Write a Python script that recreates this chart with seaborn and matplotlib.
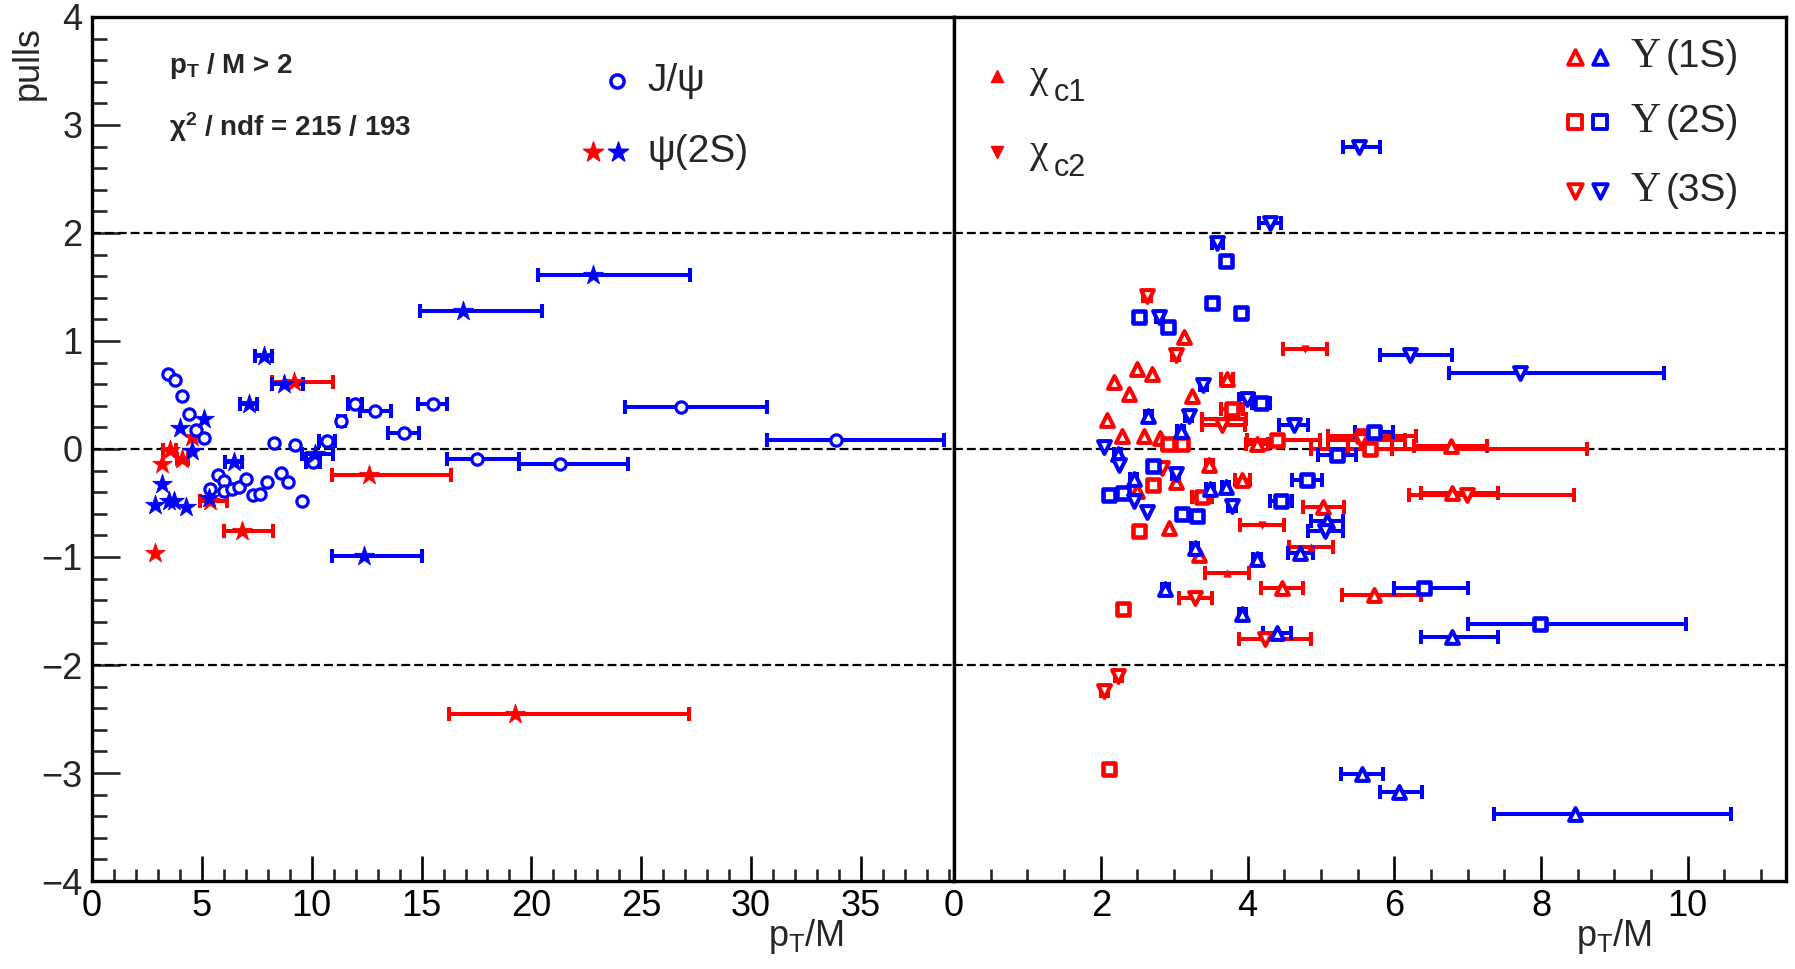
import numpy as np
import pandas as pd
import matplotlib
matplotlib.use("Agg")
import matplotlib.pyplot as plt
from matplotlib.ticker import MultipleLocator
import seaborn as sns

# ---------------- left panel: charmonium ----------------
jpsi_x = [3.46, 3.76, 4.08, 4.40, 4.75, 5.08, 5.36, 5.74, 5.99, 5.99, 6.37, 6.70, 7.00, 7.33, 7.64, 7.97,
          8.27, 8.62, 8.93, 9.25, 9.56, 10.06, 10.69, 11.35, 11.98, 12.89, 14.18, 15.50, 17.52, 21.30, 26.82, 33.85]
jpsi_y = [0.69, 0.64, 0.49, 0.32, 0.18, 0.10, -0.37, -0.24, -0.30, -0.39, -0.37, -0.35, -0.28, -0.43, -0.42, -0.31,
          0.06, -0.22, -0.31, 0.04, -0.48, -0.12, 0.07, 0.26, 0.42, 0.35, 0.15, 0.42, -0.09, -0.14, 0.39, 0.08]
jpsi_el = [0]*21 + [0.30, 0.38, 0.15, 0.33, 0.70, 0.70, 0.67, 1.37, 1.87, 2.55, 3.12]
jpsi_eh = [0]*21 + [0.30, 0.38, 0.15, 0.33, 0.70, 0.70, 0.67, 1.91, 3.08, 3.91, 4.95]

psi2s_blue_x = [2.88, 3.19, 3.49, 3.72, 3.99, 4.29, 4.55, 5.11, 5.30, 6.45, 7.13, 7.81, 8.72, 10.16, 12.36, 16.87, 22.81]
psi2s_blue_y = [-0.52, -0.32, -0.48, -0.48, 0.19, -0.54, -0.02, 0.28, -0.45, -0.12, 0.42, 0.86, 0.60, -0.05, -0.99, 1.28, 1.61]
psi2s_blue_el = [0]*9 + [0.38, 0.40, 0.38, 0.53, 0.60, 1.44, 1.92, 2.50]
psi2s_blue_eh = [0]*9 + [0.38, 0.40, 0.38, 0.88, 0.81, 2.66, 3.60, 4.43]

psi2s_red_x = [2.88, 3.19, 3.54, 4.10, 4.55, 5.39, 6.83, 9.18, 12.59, 19.27]
psi2s_red_y = [-0.96, -0.14, -0.01, -0.09, 0.11, -0.48, -0.76, 0.62, -0.24, -2.45]
psi2s_red_el = [0, 0, 0.30, 0.25, 0, 0.46, 0.84, 0.99, 1.67, 3.02]
psi2s_red_eh = [0, 0, 0.30, 0.25, 0, 0.73, 1.41, 1.77, 3.76, 7.92]

# ---------------- right panel: chi_c and bottomonium ----------------
chic1_x = [3.68, 3.72, 4.86, 6.75]
chic1_y = [0.28, -1.15, -0.91, 0.00]
chic1_el = [0.30, 0.30, 0.30, 1.88]
chic1_eh = [0.30, 0.30, 0.30, 1.88]

chic2_x = [4.78, 4.20]
chic2_y = [0.93, -0.70]
chic2_el = [0.30, 0.30]
chic2_eh = [0.30, 0.30]

ups1s_red_x = [3.14, 2.50, 2.70, 2.18, 2.39, 3.72, 3.24, 2.08, 2.29, 2.59, 2.81, 3.48, 3.93, 3.03, 2.50, 2.93,
               5.03, 3.34, 4.47, 5.73, 4.13, 6.79, 6.77]
ups1s_red_y = [1.04, 0.74, 0.69, 0.62, 0.51, 0.65, 0.49, 0.27, 0.12, 0.12, 0.10, -0.15, -0.29, -0.31, -0.39, -0.73,
               -0.54, -0.98, -1.29, -1.35, 0.05, -0.41, 0.03]
ups1s_red_el = [0, 0, 0, 0, 0, 0.08, 0, 0, 0, 0, 0, 0.05, 0.10, 0, 0, 0, 0.28, 0, 0.29, 0.44, 0.15, 0.43, 0.50]
ups1s_red_eh = [0, 0, 0, 0, 0, 0.08, 0, 0, 0, 0, 0, 0.05, 0.10, 0, 0, 0, 0.28, 0, 0.29, 0.63, 0.15, 0.62, 0.50]

ups1s_blue_x = [2.65, 3.09, 2.23, 2.45, 3.49, 3.70, 5.08, 4.72, 3.28, 4.13, 2.88, 3.93, 4.40, 6.79, 5.56, 6.06, 8.46]
ups1s_blue_y = [0.31, 0.17, -0.05, -0.28, -0.37, -0.35, -0.67, -0.96, -0.92, -1.02, -1.30, -1.53, -1.70, -1.74,
                -3.01, -3.18, -3.38]
ups1s_blue_el = [0.05, 0.05, 0.05, 0.05, 0.05, 0.05, 0.22, 0.17, 0.05, 0.05, 0.05, 0.05, 0.19, 0.43, 0.29, 0.26, 1.10]
ups1s_blue_eh = [0.05, 0.05, 0.05, 0.05, 0.05, 0.05, 0.22, 0.17, 0.05, 0.05, 0.05, 0.05, 0.19, 0.62, 0.29, 0.32, 2.13]

ups2s_red_x = [3.79, 2.91, 3.11, 4.40, 5.57, 5.67, 2.71, 3.38, 2.52, 2.30, 2.11]
ups2s_red_y = [0.37, 0.05, 0.05, 0.08, 0.12, 0.00, -0.33, -0.44, -0.76, -1.48, -2.96]
ups2s_red_el = [0.15, 0.05, 0.05, 0.41, 0.47, 0.30, 0, 0.13, 0.05, 0.05, 0.05]
ups2s_red_eh = [0.15, 0.05, 0.05, 0.59, 0.72, 0.30, 0, 0.13, 0.05, 0.05, 0.05]

ups2s_blue_x = [3.71, 3.51, 3.91, 2.52, 2.91, 4.18, 5.72, 5.22, 2.71, 2.11, 2.30, 3.11, 3.31, 4.81, 4.45, 6.40, 7.99]
ups2s_blue_y = [1.74, 1.35, 1.26, 1.22, 1.13, 0.43, 0.16, -0.06, -0.16, -0.43, -0.41, -0.60, -0.62, -0.29, -0.48,
                -1.29, -1.62]
ups2s_blue_el = [0.05, 0.05, 0.05, 0.05, 0.05, 0.12, 0.26, 0.26, 0.05, 0, 0.05, 0, 0.05, 0.20, 0.15, 0.41, 0.99]
ups2s_blue_eh = [0.05, 0.05, 0.05, 0.05, 0.05, 0.12, 0.26, 0.26, 0.05, 0, 0.05, 0, 0.05, 0.20, 0.15, 0.60, 1.99]

ups3s_red_x = [2.63, 3.02, 3.65, 2.84, 3.29, 4.24, 2.24, 2.05, 6.99, 5.55]
ups3s_red_y = [1.42, 0.87, 0.22, -0.18, -1.38, -1.76, -2.10, -2.24, -0.43, 0.08]
ups3s_red_el = [0.05, 0.05, 0.27, 0, 0.22, 0.36, 0.05, 0.05, 0.79, 0.45]
ups3s_red_eh = [0.05, 0.05, 0.32, 0, 0.22, 0.62, 0.05, 0.05, 1.46, 0.60]

ups3s_blue_x = [4.31, 3.59, 2.80, 3.40, 3.99, 3.20, 4.63, 2.04, 2.25, 3.02, 2.45, 2.63, 3.79, 5.06, 5.52, 6.21, 7.72]
ups3s_blue_y = [2.09, 1.91, 1.22, 0.59, 0.46, 0.31, 0.22, 0.02, -0.15, -0.23, -0.48, -0.58, -0.53, -0.76, 2.80,
                0.87, 0.70]
ups3s_blue_el = [0.15, 0.08, 0.05, 0.05, 0.10, 0.05, 0.20, 0, 0, 0.05, 0, 0, 0.05, 0.24, 0.22, 0.41, 0.98]
ups3s_blue_eh = [0.15, 0.08, 0.05, 0.05, 0.10, 0.05, 0.20, 0, 0, 0.05, 0, 0, 0.05, 0.24, 0.28, 0.58, 1.95]

left_ticks = [0, 5, 10, 15, 20, 25, 30, 35]
right_ticks = [0, 2, 4, 6, 8, 10]
y_ticks = [-4, -3, -2, -1, 0, 1, 2, 3, 4]
ref_lines = [-2, 0, 2]

RED = "#ff0000"
BLUE = "#0000ff"
SANS = ['Liberation Sans', 'DejaVu Sans']
SERIF = ['Liberation Serif', 'DejaVu Serif']

sns.set_theme(style="white")
plt.rcParams['font.family'] = SANS
plt.rcParams['mathtext.fontset'] = 'custom'
plt.rcParams['mathtext.rm'] = 'Liberation Sans'
plt.rcParams['mathtext.it'] = 'Liberation Sans:italic'
plt.rcParams['mathtext.bf'] = 'Liberation Sans:bold'
plt.rcParams['axes.unicode_minus'] = True

fig = plt.figure(figsize=(17.95, 9.69), dpi=100)
ax1 = fig.add_axes([0.0513, 0.0908, 0.4802, 0.8917])
ax2 = fig.add_axes([0.5315, 0.0908, 0.4635, 0.8917])


def draw(ax, x, y, el, eh, color, marker, filled, size, lw):
    df = pd.DataFrame({"x": x, "y": y, "el": el, "eh": eh})
    e = df[(df.el > 0) | (df.eh > 0)]
    if len(e):
        ax.errorbar(e.x, e.y, xerr=[e.el, e.eh], fmt="none", ecolor=color,
                    elinewidth=2.9, capsize=5, capthick=2.9, zorder=3)
    sns.scatterplot(data=df, x="x", y="y", ax=ax, marker=marker, s=size,
                    facecolor=color if filled else "white", edgecolor=color,
                    linewidth=lw, zorder=4, legend=False)


# left panel
draw(ax1, psi2s_red_x, psi2s_red_y, psi2s_red_el, psi2s_red_eh, RED, "*", True, 220, 0.6)
draw(ax1, jpsi_x, jpsi_y, jpsi_el, jpsi_eh, BLUE, "o", False, 66, 2.3)
draw(ax1, psi2s_blue_x, psi2s_blue_y, psi2s_blue_el, psi2s_blue_eh, BLUE, "*", True, 220, 0.6)

# right panel
draw(ax2, chic1_x, chic1_y, chic1_el, chic1_eh, RED, "^", True, 28, 0.5)
draw(ax2, chic2_x, chic2_y, chic2_el, chic2_eh, RED, "v", True, 28, 0.5)
draw(ax2, ups1s_red_x, ups1s_red_y, ups1s_red_el, ups1s_red_eh, RED, "^", False, 85, 2.9)
draw(ax2, ups2s_red_x, ups2s_red_y, ups2s_red_el, ups2s_red_eh, RED, "s", False, 72, 3.3)
draw(ax2, ups3s_red_x, ups3s_red_y, ups3s_red_el, ups3s_red_eh, RED, "v", False, 85, 2.9)
draw(ax2, ups1s_blue_x, ups1s_blue_y, ups1s_blue_el, ups1s_blue_eh, BLUE, "^", False, 85, 2.9)
draw(ax2, ups2s_blue_x, ups2s_blue_y, ups2s_blue_el, ups2s_blue_eh, BLUE, "s", False, 72, 3.3)
draw(ax2, ups3s_blue_x, ups3s_blue_y, ups3s_blue_el, ups3s_blue_eh, BLUE, "v", False, 85, 2.9)

for ax in (ax1, ax2):
    for yv in ref_lines:
        ax.axhline(yv, color="black", lw=1.6, ls=(0, (4, 1.8)), zorder=1)
    ax.set_ylim(-4, 4)
    ax.set_xlabel("")
    ax.set_ylabel("")
    for sp in ax.spines.values():
        sp.set_visible(True)
        sp.set_color("black")
        sp.set_linewidth(2.4)
    ax.set_facecolor("white")

ax1.set_xlim(0, 39.24)
ax2.set_xlim(0, 11.34)
ax1.set_xticks(left_ticks)
ax1.set_xticklabels([str(t) for t in left_ticks])
ax1.xaxis.set_minor_locator(MultipleLocator(1))
ax2.set_xticks(right_ticks)
ax2.set_xticklabels([str(t) for t in right_ticks])
ax2.xaxis.set_minor_locator(MultipleLocator(0.5))
ax1.set_yticks(y_ticks)
ax1.set_yticklabels([str(t).replace("-", "\u2212") for t in y_ticks])
ax1.yaxis.set_minor_locator(MultipleLocator(0.2))
ax2.set_yticks([])

for ax in (ax1, ax2):
    ax.tick_params(axis="x", which="major", direction="in", length=18, width=1.9,
                   bottom=True, top=False, labelsize=26, pad=6, colors="black")
    ax.tick_params(axis="x", which="minor", direction="in", length=9, width=1.9,
                   bottom=True, top=False)
ax1.tick_params(axis="y", which="major", direction="in", length=20, width=1.9,
                left=True, right=False, labelsize=26, pad=7)
ax1.tick_params(axis="y", which="minor", direction="in", length=11, width=1.9,
                left=True, right=False)
ax2.tick_params(axis="y", which="both", left=False, right=False, labelleft=False)

# axis titles
fig.text(0.016, 0.935, "pulls", rotation=90, ha="center", va="center", fontsize=26)
fig.text(0.449, 0.034, "p$_{\\mathregular{T}}$/M", ha="center", va="center", fontsize=26)
fig.text(0.899, 0.034, "p$_{\\mathregular{T}}$/M", ha="center", va="center", fontsize=26)

# annotations
ax1.text(3.52, 3.55, "p$_{\\mathbf{T}}$ / M > 2", fontsize=20, fontweight="bold",
         ha="left", va="center")
ax1.text(3.52, 2.98, "\u03c7$^{\\mathbf{2}}$ / ndf = 215 / 193", fontsize=20, fontweight="bold",
         ha="left", va="center")

# legend glyphs (left)
ax1.scatter([23.9], [3.41], marker="o", s=90, facecolor="white", edgecolor=BLUE, linewidth=2.5, zorder=5)
ax1.text(25.3, 3.41, "J/\u03c8", fontsize=28, ha="left", va="center")
ax1.scatter([22.81], [2.75], marker="*", s=230, color=RED, zorder=5)
ax1.scatter([23.96], [2.75], marker="*", s=230, color=BLUE, zorder=5)
ax1.text(25.3, 2.75, "\u03c8(2S)", fontsize=28, ha="left", va="center")

# legend glyphs (right)
ax2.scatter([0.59], [3.45], marker="^", s=75, color=RED, zorder=5)
ax2.text(1.02, 3.45, "\u03c7", fontsize=30, ha="left", va="center", family=SERIF)
ax2.text(1.36, 3.30, "c1", fontsize=22, ha="left", va="center")
ax2.scatter([0.59], [2.75], marker="v", s=75, color=RED, zorder=5)
ax2.text(1.02, 2.75, "\u03c7", fontsize=30, ha="left", va="center", family=SERIF)
ax2.text(1.36, 2.60, "c2", fontsize=22, ha="left", va="center")
for yy, mk, lab in [(3.63, "^", "(1S)"), (3.03, "s", "(2S)"), (2.39, "v", "(3S)")]:
    ax2.scatter([8.46], [yy], marker=mk, s=110, facecolor="white", edgecolor=RED, linewidth=2.8, zorder=5)
    ax2.scatter([8.80], [yy], marker=mk, s=110, facecolor="white", edgecolor=BLUE, linewidth=2.8, zorder=5)
    ax2.text(9.22, yy, "\u03a5", fontsize=30, ha="left", va="center", family=SERIF)
    ax2.text(9.70, yy, lab, fontsize=28, ha="left", va="center")

fig.savefig("out.png", dpi=100, facecolor="white")
